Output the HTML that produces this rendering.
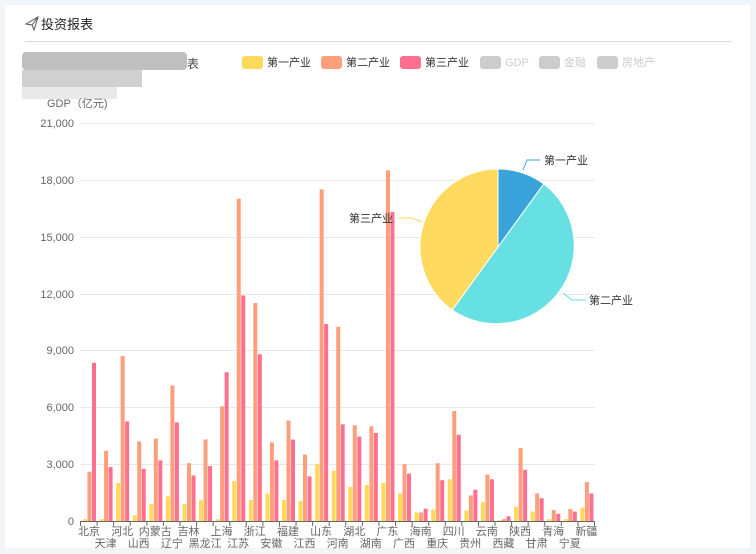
<!DOCTYPE html>
<html><head><meta charset="utf-8"><style>
body{margin:0;background:#f2f5f8;font-family:"Liberation Sans","Noto Sans CJK SC",sans-serif;}
#card{position:absolute;left:5px;top:5px;width:745px;height:543px;background:#fff;}
svg{position:absolute;left:0;top:0}
</style></head><body>
<div id="card"></div>
<svg width="756" height="554" viewBox="0 0 756 554" font-family="Liberation Sans, Noto Sans CJK SC, sans-serif">
<g transform="translate(26,17)" fill="none" stroke="#555" stroke-width="1"><path d="M0 7 L12 0 L8 13 L6 8 Z M6 8 L12 0"/></g>
<text x="41" y="29" font-size="13" fill="#222">投资报表</text>
<line x1="25" y1="41.5" x2="732" y2="41.5" stroke="#d9d9de"/>
<g fill="#bbb" opacity="0.85">
<rect x="22" y="52" width="165" height="18" rx="4" fill="#b4b4b4"/>
<rect x="22" y="70" width="120" height="17" fill="#c8c8c8"/>
<rect x="22" y="87" width="95" height="12" fill="#e6e6e6"/>
</g>
<text x="187" y="68" font-size="12" fill="#444">表</text>
<g font-size="11">
<rect x="242" y="56" width="21" height="13" rx="3" fill="#ffd95a"/><text x="267" y="66" fill="#333">第一产业</text>
<rect x="321" y="56" width="21" height="13" rx="3" fill="#ff9e7a"/><text x="346" y="66" fill="#333">第二产业</text>
<rect x="400" y="56" width="21" height="13" rx="3" fill="#ff7090"/><text x="425" y="66" fill="#333">第三产业</text>
<rect x="480" y="56" width="21" height="13" rx="3" fill="#ccc"/><text x="505" y="66" fill="#ccc">GDP</text>
<rect x="539" y="56" width="21" height="13" rx="3" fill="#ccc"/><text x="564" y="66" fill="#ccc">金融</text>
<rect x="597" y="56" width="21" height="13" rx="3" fill="#ccc"/><text x="622" y="66" fill="#ccc">房地产</text>
</g>
<text x="47" y="107" font-size="11" fill="#666">GDP（亿元)</text>
<g stroke="#e6e8f0" stroke-width="1">
<line x1="80" x2="595" y1="123.5" y2="123.5"/><line x1="80" x2="595" y1="180.5" y2="180.5"/>
<line x1="80" x2="595" y1="237.5" y2="237.5"/><line x1="80" x2="595" y1="294.5" y2="294.5"/>
<line x1="80" x2="595" y1="350.5" y2="350.5"/><line x1="80" x2="595" y1="407.5" y2="407.5"/>
<line x1="80" x2="595" y1="464.5" y2="464.5"/>
</g>
<g font-size="11" fill="#666" text-anchor="end">
<text x="74" y="127">21,000</text><text x="74" y="184">18,000</text><text x="74" y="241">15,000</text>
<text x="74" y="298">12,000</text><text x="74" y="354">9,000</text><text x="74" y="411">6,000</text>
<text x="74" y="468">3,000</text><text x="74" y="525">0</text>
</g>
<g id="bars"></g>
<line x1="80" x2="595" y1="521.5" y2="521.5" stroke="#666"/>
<g id="ticks" stroke="#666"></g>
<g font-size="11" fill="#666" text-anchor="middle">
<text x="89" y="535">北京</text><text x="105.6" y="547">天津</text><text x="122.2" y="535">河北</text><text x="138.7" y="547">山西</text>
<text x="155.3" y="535">内蒙古</text><text x="171.9" y="547">辽宁</text><text x="188.5" y="535">吉林</text><text x="205.1" y="547">黑龙江</text>
<text x="221.6" y="535">上海</text><text x="238.2" y="547">江苏</text><text x="254.8" y="535">浙江</text><text x="271.4" y="547">安徽</text>
<text x="288" y="535">福建</text><text x="304.5" y="547">江西</text><text x="321.1" y="535">山东</text><text x="337.7" y="547">河南</text>
<text x="354.3" y="535">湖北</text><text x="370.8" y="547">湖南</text><text x="387.4" y="535">广东</text><text x="404" y="547">广西</text>
<text x="420.6" y="535">海南</text><text x="437.2" y="547">重庆</text><text x="453.7" y="535">四川</text><text x="470.3" y="547">贵州</text>
<text x="486.9" y="535">云南</text><text x="503.5" y="547">西藏</text><text x="520.1" y="535">陕西</text><text x="536.6" y="547">甘肃</text>
<text x="553.2" y="535">青海</text><text x="569.8" y="547">宁夏</text><text x="586.4" y="535">新疆</text>
</g>
<g stroke="#fff" stroke-width="1">
<path d="M498 247 L498 169 A78 78 0 0 1 543.8 183.9 Z" fill="#3aa3d9"/>
<path d="M498 247 L543.8 183.9 A78 78 0 0 1 452.2 310.1 Z" fill="#66e0e3"/>
<path d="M498 247 L452.2 310.1 A78 78 0 0 1 498 169 Z" fill="#ffda5e"/>
</g>
<polyline points="523,170 527,160 540,160" fill="none" stroke="#3aa3d9"/>
<text x="544" y="164" font-size="11" fill="#333">第一产业</text>
<polyline points="563,293 572,300 586,300" fill="none" stroke="#66e0e3"/>
<text x="589" y="304" font-size="11" fill="#333">第二产业</text>
<polyline points="422,222 412,218 398,218" fill="none" stroke="#ffda5e"/>
<text x="349" y="222" font-size="11" fill="#333">第三产业</text>
</svg>
<script>
var d=[[100,2600,8350],[100,3700,2850],[2000,8700,5250],[300,4200,2750],[900,4350,3200],[1300,7150,5200],[900,3050,2400],[1100,4300,2900],[100,6050,7850],[2100,17000,11900],[1100,11500,8800],[1450,4150,3200],[1100,5300,4300],[1050,3500,2350],[3000,17500,10400],[2650,10250,5100],[1800,5050,4450],[1900,5000,4650],[2000,18500,16300],[1450,3000,2500],[450,450,650],[600,3050,2150],[2200,5800,4550],[550,1350,1650],[1000,2450,2200],[50,100,250],[750,3850,2700],[500,1450,1200],[100,580,380],[100,630,500],[700,2050,1450]];
var c=["#ffd95a","#ff9e7a","#ff7090"],o=[2.5,7,11.5],s="",t="",w=514/31;
for(var i=0;i<31;i++){var x0=80.5+i*w;t+='<line x1="'+x0+'" x2="'+x0+'" y1="521" y2="526"/>';
for(var j=0;j<3;j++){var h=d[i][j]*398/21000;s+='<rect x="'+(x0+o[j])+'" y="'+(521-h)+'" width="4" height="'+h+'" fill="'+c[j]+'"/>';}}
t+='<line x1="594.5" x2="594.5" y1="521" y2="526"/>';
document.getElementById("bars").innerHTML=s;document.getElementById("ticks").innerHTML=t;
</script>
</body></html>
